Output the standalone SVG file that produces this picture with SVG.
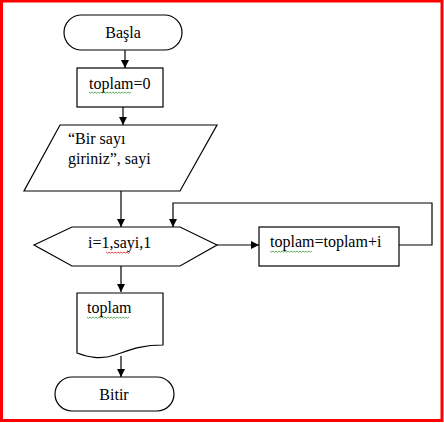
<svg xmlns="http://www.w3.org/2000/svg" width="444" height="423" viewBox="0 0 444 423">
<style>
.s{fill:#fff;stroke:#000;stroke-width:1.2}
.t{font-family:"Liberation Serif","Times New Roman",serif;font-size:16px;fill:#000}
.c{fill:none;stroke:#000;stroke-width:1.2}
.g{fill:none;stroke:#3a9a3a;stroke-width:0.8}
.r{fill:none;stroke:#e02020;stroke-width:0.8}
</style>
<defs>
<marker id="a" viewBox="0 0 10 10" refX="10" refY="5" markerWidth="8" markerHeight="8" markerUnits="userSpaceOnUse" orient="auto">
<path d="M0,0 L10,5 L0,10 Z" fill="#000"/>
</marker>
</defs>
<rect x="1.5" y="1" width="440.5" height="419.5" fill="#fff" stroke="#f00" stroke-width="3"/>
<g id="connectors">
<line class="c" x1="125" y1="50" x2="125" y2="68" marker-end="url(#a)"/>
<line class="c" x1="123" y1="107" x2="123" y2="125" marker-end="url(#a)"/>
<line class="c" x1="121" y1="191" x2="121" y2="227" marker-end="url(#a)"/>
<line class="c" x1="217" y1="245" x2="259" y2="245" marker-end="url(#a)"/>
<polyline class="c" points="399,245 432,245 432,203 173,203 173,227" marker-end="url(#a)"/>
<line class="c" x1="121" y1="266" x2="121" y2="292" marker-end="url(#a)"/>
<line class="c" x1="121" y1="356" x2="121" y2="377" marker-end="url(#a)"/>
</g>
<g id="basla">
<rect class="s" x="64" y="15" width="118" height="35" rx="17.5"/>
<text class="t" x="123" y="38" text-anchor="middle">Başla</text>
</g>
<g id="toplam0">
<rect class="s" x="77" y="68" width="86" height="39"/>
<text class="t" x="89" y="89">toplam=0</text>
<path class="g" d="M89,92 l1.5,1.2 l1.5,-1.2 l1.5,1.2 l1.5,-1.2 l1.5,1.2 l1.5,-1.2 l1.5,1.2 l1.5,-1.2 l1.5,1.2 l1.5,-1.2 l1.5,1.2 l1.5,-1.2 l1.5,1.2 l1.5,-1.2 l1.5,1.2 l1.5,-1.2 l1.5,1.2 l1.5,-1.2 l1.5,1.2 l1.5,-1.2 l1.5,1.2 l1.5,-1.2 l1.5,1.2 l1.5,-1.2 l1.5,1.2 l1.5,-1.2 l1.5,1.2 l1.5,-1.2"/>
</g>
<g id="input">
<polygon class="s" points="60,125 217,125 180,191 24,191"/>
<text class="t" x="68" y="144">“Bir sayı</text>
<text class="t" x="68" y="164">giriniz”, sayi</text>
</g>
<g id="loop">
<polygon class="s" points="34,245 72,227 180,227 217,245 180,266 72,266"/>
<text class="t" x="88" y="248">i=1,sayi,1</text>
<path class="r" d="M106,252 l1.5,1.2 l1.5,-1.2 l1.5,1.2 l1.5,-1.2 l1.5,1.2 l1.5,-1.2 l1.5,1.2 l1.5,-1.2 l1.5,1.2 l1.5,-1.2 l1.5,1.2 l1.5,-1.2 l1.5,1.2 l1.5,-1.2 l1.5,1.2 l1.5,-1.2"/>
</g>
<g id="sum">
<rect class="s" x="259" y="227" width="140" height="39"/>
<text class="t" x="270" y="247">toplam=toplam+i</text>
<path class="g" d="M270,251 l1.5,1.2 l1.5,-1.2 l1.5,1.2 l1.5,-1.2 l1.5,1.2 l1.5,-1.2 l1.5,1.2 l1.5,-1.2 l1.5,1.2 l1.5,-1.2 l1.5,1.2 l1.5,-1.2 l1.5,1.2 l1.5,-1.2 l1.5,1.2 l1.5,-1.2 l1.5,1.2 l1.5,-1.2 l1.5,1.2 l1.5,-1.2 l1.5,1.2 l1.5,-1.2 l1.5,1.2 l1.5,-1.2 l1.5,1.2 l1.5,-1.2 l1.5,1.2 l1.5,-1.2"/>
</g>
<g id="output">
<path class="s" d="M77,293 L163,293 L163,345 C140,345 130,350 115,355 C100,360 88,357 77,353 Z"/>
<text class="t" x="87" y="313">toplam</text>
<path class="g" d="M87,317 l1.5,1.2 l1.5,-1.2 l1.5,1.2 l1.5,-1.2 l1.5,1.2 l1.5,-1.2 l1.5,1.2 l1.5,-1.2 l1.5,1.2 l1.5,-1.2 l1.5,1.2 l1.5,-1.2 l1.5,1.2 l1.5,-1.2 l1.5,1.2 l1.5,-1.2 l1.5,1.2 l1.5,-1.2 l1.5,1.2 l1.5,-1.2 l1.5,1.2 l1.5,-1.2 l1.5,1.2 l1.5,-1.2 l1.5,1.2 l1.5,-1.2 l1.5,1.2 l1.5,-1.2"/>
</g>
<g id="bitir">
<rect class="s" x="55" y="377" width="119" height="34" rx="17"/>
<text class="t" x="114" y="400" text-anchor="middle">Bitir</text>
</g>
</svg>
